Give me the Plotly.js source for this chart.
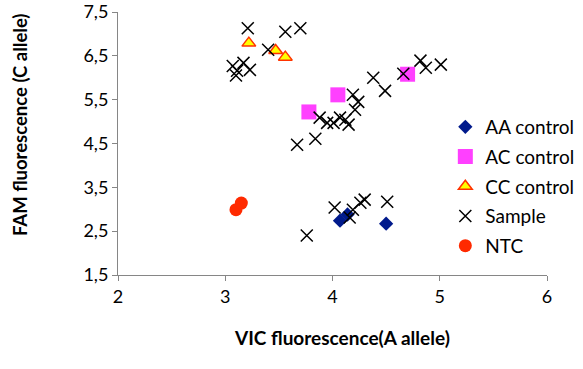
<!DOCTYPE html>
<html>
<head>
<meta charset="utf-8">
<script src="https://cdn.plot.ly/plotly-3.0.1.min.js"></script>
<style>html,body{margin:0;padding:0;background:#fff;}#chart{width:583px;height:369px;}</style>
</head>
<body>
<div id="chart"></div>
<script>
// Data
const aaX = [4.07, 4.14, 4.50];
const aaY = [2.74, 2.88, 2.67];

const acX = [3.78, 4.05, 4.70];
const acY = [5.22, 5.61, 6.08];

const ccX = [3.22, 3.47, 3.56];
const ccY = [6.79, 6.62, 6.47];

const sampleX = [3.21, 3.56, 3.70, 3.40, 3.07, 3.11, 3.17, 3.23, 3.10,
                 3.67, 3.84, 3.88, 3.95, 4.01, 4.07, 4.12, 4.15, 4.19, 4.24, 4.21,
                 4.38, 4.49, 4.66, 4.82, 4.87, 5.01,
                 4.02, 4.16, 4.19, 4.26, 4.30, 4.51, 3.76];
const sampleY = [7.13, 7.05, 7.13, 6.64, 6.27, 6.16, 6.34, 6.18, 6.05,
                 4.47, 4.61, 5.09, 4.97, 4.97, 5.09, 5.04, 4.93, 5.61, 5.45, 5.27,
                 6.00, 5.70, 6.09, 6.39, 6.23, 6.30,
                 3.04, 2.81, 2.99, 3.15, 3.22, 3.17, 2.40];

const ntcX = [3.10, 3.15];
const ntcY = [2.99, 3.14];

const seriesNames = ['AA control', 'AC control', 'CC control', 'Sample', 'NTC'];
const xTitle = 'VIC fluorescence(A allele)';
const yTitle = 'FAM fluorescence (C allele)';

const FONT = 'Lato, "Open Sans", sans-serif';

const traces = [
  {x: aaX, y: aaY, name: seriesNames[0], legendgroup: 'a', mode: 'markers', type: 'scatter',
   marker: {symbol: 'diamond', size: 11, color: '#001a8c'}},
  {x: acX, y: acY, name: seriesNames[1], legendgroup: 'b', mode: 'markers', type: 'scatter',
   marker: {symbol: 'square', size: 15, color: '#ff40ff'}},
  {x: ccX, y: ccY, name: seriesNames[2], legendgroup: 'c', mode: 'markers', type: 'scatter',
   marker: {symbol: 'triangle-up', size: 12, color: '#ffff00', line: {color: '#ff3300', width: 1.5}}},
  {x: sampleX, y: sampleY, name: seriesNames[3], legendgroup: 'd', mode: 'markers', type: 'scatter',
   marker: {symbol: 'x-thin-open', size: 12, color: '#000000', line: {color: '#000000', width: 1.5}}},
  {x: ntcX, y: ntcY, name: seriesNames[4], legendgroup: 'e', mode: 'markers', type: 'scatter',
   marker: {symbol: 'circle', size: 13, color: '#ff2a00'}}
];

const layout = {
  width: 583, height: 369,
  margin: {l: 118, r: 36, t: 12, b: 93.5, pad: 0, autoexpand: false},
  paper_bgcolor: '#ffffff', plot_bgcolor: '#ffffff',
  separators: ',.',
  font: {family: FONT, size: 16, color: '#000000'},
  showlegend: true,
  legend: {x: 0.763, xanchor: 'left', y: 0.635, yanchor: 'top', tracegroupgap: 2,
           font: {family: FONT, size: 19, color: '#000000'}, bgcolor: 'rgba(0,0,0,0)'},
  xaxis: {range: [2, 6], dtick: 1, tick0: 2, showgrid: false, zeroline: false,
          showline: true, linecolor: '#868686', linewidth: 1, automargin: false,
          ticks: 'outside', ticklen: 5, tickcolor: '#868686',
          tickfont: {family: FONT, size: 18, color: '#000000'}, tickformat: 'd'},
  yaxis: {range: [1.5, 7.5], dtick: 1, tick0: 1.5, showgrid: false, zeroline: false,
          showline: true, linecolor: '#868686', linewidth: 1, automargin: false,
          ticks: 'outside', ticklen: 5, tickcolor: '#868686',
          tickfont: {family: FONT, size: 18, color: '#000000'}, tickformat: '.1f'},
  annotations: [
    {text: '<b>' + xTitle + '</b>', xref: 'paper', yref: 'paper', x: 0.522, y: -0.237,
     xanchor: 'center', yanchor: 'middle', showarrow: false,
     font: {family: FONT, size: 19, color: '#000000'}},
    {text: '<b>' + yTitle + '</b>', xref: 'paper', yref: 'paper', x: -0.228, y: 0.571,
     xanchor: 'center', yanchor: 'middle', showarrow: false, textangle: -90,
     font: {family: FONT, size: 18.5, color: '#000000'}}
  ]
};

Plotly.newPlot('chart', traces, layout, {displayModeBar: false, staticPlot: true});
</script>
</body>
</html>
